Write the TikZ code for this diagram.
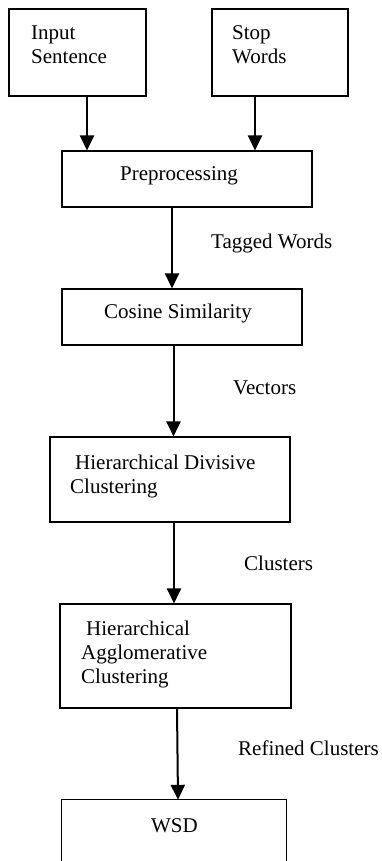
\documentclass[tikz,border=0pt]{standalone}
\usepackage{fontspec}
\setmainfont{Liberation Serif}
\usetikzlibrary{arrows.meta}

\begin{document}
\begin{tikzpicture}[x=1pt, y=-1pt,
  box/.style={draw, line width=1.1pt, inner sep=0pt},
  txt/.style={inner sep=0pt, align=left, font=\fontsize{21}{24}\selectfont},
  flow/.style={line width=2pt, -{Triangle[length=15pt,width=14pt]}}]
  \useasboundingbox (0,0) rectangle (382,861);

  % Boxes
  \node[box, minimum width=137pt, minimum height=87pt]  (input) at (77.5,52.5) {};
  \node[box, minimum width=136pt, minimum height=87pt]  (stop)  at (280,52.5)  {};
  \node[box, minimum width=250pt, minimum height=56pt]  (prep)  at (187,179)   {};
  \node[box, minimum width=240pt, minimum height=56pt]  (cos)   at (182,317)   {};
  \node[box, minimum width=240pt, minimum height=85pt]  (hdc)   at (170,479.5) {};
  \node[box, minimum width=231pt, minimum height=104pt] (hac)   at (175.5,656) {};
  \node[minimum width=224pt, minimum height=61pt, inner sep=0pt] (wsd) at (174,830.5) {};
  % WSD box runs off the bottom edge
  \draw[line width=1.1pt] (wsd.south west) -- (wsd.north west) -- (wsd.north east) -- (wsd.south east);

  % Box texts
  \node[txt, anchor=west] (input-t) at (31,45)  {Input\\Sentence};
  \node[txt, anchor=west] (stop-t)  at (232,45) {Stop\\Words};
  \node[txt] (prep-t) at (179,176)   {Preprocessing};
  \node[txt] (cos-t)  at (178,313)   {Cosine Similarity};
  \node[txt, anchor=west] (hdc-t) at (70,476) {\hspace*{5pt}Hierarchical Divisive\\Clustering};
  \node[txt, anchor=west] (hac-t) at (81,654) {\hspace*{5pt}Hierarchical\\Agglomerative\\Clustering};
  \node[txt] (wsd-t)  at (174.5,826) {WSD};

  % Flow arrows
  \draw[flow] ([xshift=9.5pt]input.south) -- ([xshift=9.5pt]input.south |- prep.north);
  \draw[flow] ([xshift=-25pt]stop.south) -- ([xshift=-25pt]stop.south |- prep.north);
  \draw[flow] ([xshift=-15pt]prep.south) -- ([xshift=-15pt]prep.south |- cos.north);
  \draw[flow] ([xshift=-8.5pt]cos.south) -- ([xshift=-8.5pt]cos.south |- hdc.north);
  \draw[flow] ([xshift=4pt]hdc.south) -- ([xshift=4pt]hdc.south |- hac.north);
  \draw[flow] ([xshift=1.5pt]hac.south) -- ([xshift=2.5pt]hac.south |- wsd.north);

  % Arrow labels
  \node[txt, anchor=west] (tagged)   at (211,243) {Tagged Words};
  \node[txt, anchor=west] (vectors)  at (233,388) {Vectors};
  \node[txt, anchor=west] (clusters) at (244,563) {Clusters};
  \node[txt, anchor=west] (refined)  at (238,748) {Refined Clusters};
\end{tikzpicture}
\end{document}
